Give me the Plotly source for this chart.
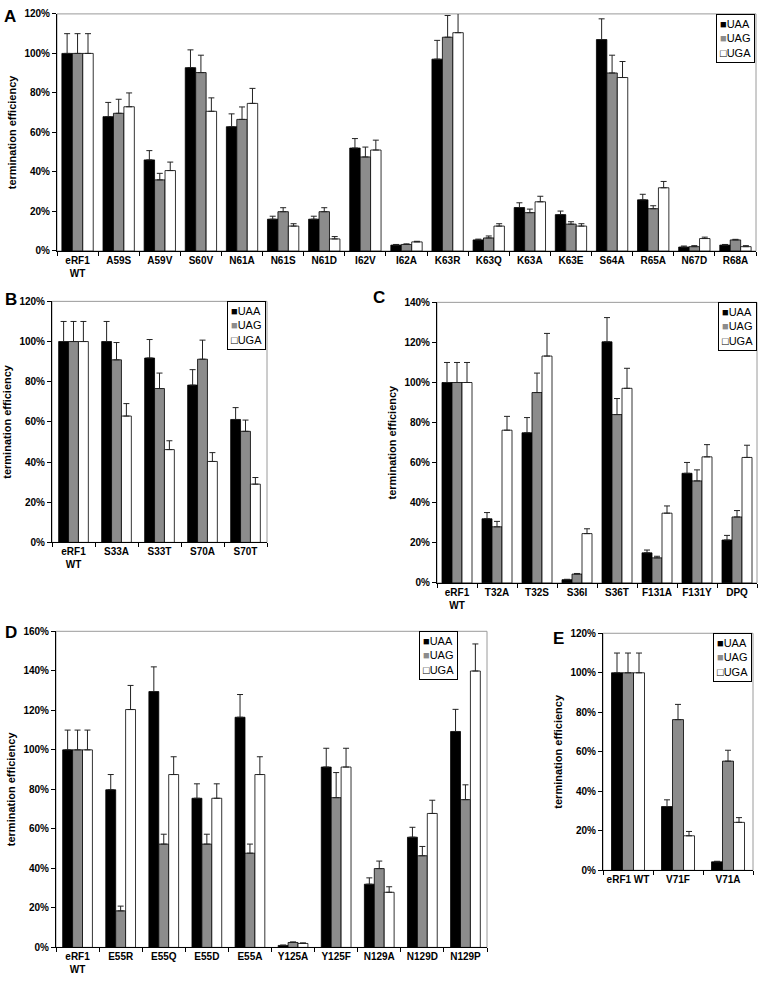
import plotly.graph_objects as go

W, H = 760, 987

# ---------------- data ----------------
A_cats = ["eRF1<br>WT", "A59S", "A59V", "S60V", "N61A", "N61S", "N61D", "I62V", "I62A",
          "K63R", "K63Q", "K63A", "K63E", "S64A", "R65A", "N67D", "R68A"]
A_uaa = [100, 68, 46.1, 92.8, 62.9, 16.1, 16.1, 52.1, 3, 97.1, 5.6, 22, 18.4, 107, 25.9, 2, 3]
A_uaa_err = [10, 7.2, 4.7, 9, 6.5, 1.5, 1.5, 4.8, 0.3, 9.5, 0.4, 2.4, 1.8, 10.5, 2.8, 0.5, 0.3]
A_uag = [100, 69.7, 36, 90.3, 66.6, 19.9, 19.9, 47.6, 3.3, 108.2, 6.6, 19.4, 13.6, 90.1, 21.4, 2.2, 5.6]
A_uag_err = [10, 7.1, 3.3, 8.8, 6.3, 2, 2, 5, 0.3, 11, 1, 1.8, 1.2, 9, 1.5, 0.5, 0.3]
A_uga = [100, 73, 40.7, 70.7, 74.7, 12.6, 6.1, 51.1, 4.6, 110.5, 12.6, 24.9, 12.6, 87.8, 32, 6.3, 2.2]
A_uga_err = [10, 7, 4.3, 6.8, 7.6, 1.2, 1.2, 5, 0.3, 11, 1.2, 2.8, 1.2, 8.1, 3.2, 0.7, 0.5]

B_cats = ["eRF1<br>WT", "S33A", "S33T", "S70A", "S70T"]
B_uaa = [100, 100, 91.8, 78.3, 61.2]
B_uaa_err = [10, 10, 9.2, 7.7, 5.9]
B_uag = [100, 90.9, 76.6, 91.2, 55.3]
B_uag_err = [10, 8.6, 7.7, 9.5, 5.6]
B_uga = [100, 62.9, 46.2, 40.3, 29]
B_uga_err = [10, 6.2, 4.4, 4.4, 3.3]

C_cats = ["eRF1<br>WT", "T32A", "T32S", "S36I", "S36T", "F131A", "F131Y", "DPQ"]
C_uaa = [100, 32, 74.9, 1.6, 120.3, 15, 54.7, 21.4]
C_uaa_err = [10, 3.1, 7.6, 0.2, 12.1, 1.4, 5.4, 2.3]
C_uag = [100, 28, 95, 4.4, 84, 12.5, 50.9, 32.9]
C_uag_err = [10, 2.7, 9.7, 0.3, 8, 0.8, 5.5, 3.2]
C_uga = [100, 76.2, 113.2, 24.6, 97.1, 34.8, 62.9, 62.6]
C_uga_err = [10, 6.9, 11.3, 2.4, 10, 3.6, 6.1, 6.1]

D_cats = ["eRF1<br>WT", "E55R", "E55Q", "E55D", "E55A", "Y125A", "Y125F", "N129A", "N129D", "N129P"]
D_uaa = [100, 79.8, 129.5, 75.5, 116.5, 1, 91.3, 32, 55.8, 109.3]
D_uaa_err = [10, 7.7, 12.5, 7.3, 11.5, 0.2, 9.5, 3.2, 5, 11.2]
D_uag = [100, 18.5, 52.3, 52.3, 47.7, 2.5, 75.8, 39.9, 46.4, 74.8]
D_uag_err = [10, 2.4, 5, 5, 4.6, 0.3, 12.7, 3.8, 4.7, 7.5]
D_uga = [100, 120.4, 87.5, 75.5, 87.5, 2, 91.3, 27.9, 67.8, 139.9]
D_uga_err = [10, 12.2, 9, 7.3, 9, 0.3, 9.5, 2.8, 6.7, 13.7]

E_cats = ["eRF1 WT", "V71F", "V71A"]
E_uaa = [100, 32.3, 4.3]
E_uaa_err = [10, 3.4, 0.3]
E_uag = [100, 76.3, 55.3]
E_uag_err = [10, 7.7, 5.5]
E_uga = [100, 17.5, 24.3]
E_uga_err = [10, 2.2, 2.4]

series_names = ["UAA", "UAG", "UGA"]
# --------------------------------------

FONT = "Liberation Sans, Arial, sans-serif"
fills = ["#000000", "#8c8c8c", "#ffffff"]


def px_x(p):
    return p / W


def px_y(p):
    return 1 - p / H


fig = go.Figure()

panels = [
    dict(letter="A", cats=A_cats, vals=[A_uaa, A_uag, A_uga], errs=[A_uaa_err, A_uag_err, A_uga_err],
         ymax=120, w=0.254, box=(57, 756, 8, 248), lpos=(2, 11), leg=(755, 8)),
    dict(letter="B", cats=B_cats, vals=[B_uaa, B_uag, B_uga], errs=[B_uaa_err, B_uag_err, B_uga_err],
         ymax=120, w=0.23, box=(52, 267, 299, 543), lpos=(3, 297), leg=(266, 299)),
    dict(letter="C", cats=C_cats, vals=[C_uaa, C_uag, C_uga], errs=[C_uaa_err, C_uag_err, C_uga_err],
         ymax=140, w=0.25, box=(437, 757, 300, 584), lpos=(371, 295), leg=(757, 300)),
    dict(letter="D", cats=D_cats, vals=[D_uaa, D_uag, D_uga], errs=[D_uaa_err, D_uag_err, D_uga_err],
         ymax=160, w=0.23, box=(56, 487, 633, 953), lpos=(3, 634), leg=(458, 633)),
    dict(letter="E", cats=E_cats, vals=[E_uaa, E_uag, E_uga], errs=[E_uaa_err, E_uag_err, E_uga_err],
         ymax=120, w=0.22, box=(603, 753, 635, 875), lpos=(551, 640), leg=(752, 635)),
]

for k, p in enumerate(panels):
    idx = "" if k == 0 else str(k + 1)
    xa, ya = "x" + idx, "y" + idx
    n = len(p["cats"])
    w = p["w"]
    for i in range(3):
        fig.add_trace(go.Bar(
            x=p["cats"], y=p["vals"][i], name=series_names[i],
            xaxis=xa, yaxis=ya, width=w, offset=-1.5 * w + i * w,
            marker=dict(color=fills[i], line=dict(color="#000000", width=0.8)),
            error_y=dict(type="data", symmetric=False, array=p["errs"][i],
                         arrayminus=[0] * n, color="#222222", thickness=1, width=3),
            showlegend=False,
        ))
    l, r, t, b = p["box"]
    fig.update_layout(**{
        "xaxis" + idx: dict(domain=[px_x(l), px_x(r)], anchor=ya, type="category",
                            showline=True, linecolor="#000000", linewidth=1,
                            ticks="outside", tickson="boundaries", ticklen=4, tickcolor="#000000",
                            showgrid=False, zeroline=False, tickangle=0,
                            tickfont=dict(family=FONT, size=10, color="#000000", weight="bold")),
        "yaxis" + idx: dict(domain=[px_y(b), px_y(t)], anchor=xa, range=[0, p["ymax"]],
                            dtick=20, ticksuffix="%", showline=True, linecolor="#000000", linewidth=1,
                            ticks="outside", ticklen=4, tickcolor="#000000",
                            showgrid=False, zeroline=False,
                            tickfont=dict(family=FONT, size=10, color="#000000", weight="bold"),
                            title=dict(text="termination efficiency", standoff=5,
                                       font=dict(family=FONT, size=11, color="#000000", weight="bold"))),
    })
    fig.add_shape(type="rect", xref=xa + " domain", yref=ya + " domain", x0=0, x1=1, y0=0, y1=1,
                  line=dict(color="#9a9a9a", width=1), layer="below")
    fig.add_annotation(text="<b>" + p["letter"] + "</b>", xref="paper", yref="paper",
                       x=px_x(p["lpos"][0]), y=px_y(p["lpos"][1]), xanchor="left", yanchor="middle",
                       showarrow=False, font=dict(family=FONT, size=17, color="#000000"))
    leg_text = ("<span style='color:#000000'>■</span>UAA<br>"
                "<span style='color:#8c8c8c'>■</span>UAG<br>"
                "<span style='color:#000000'>□</span>UGA")
    fig.add_annotation(text=leg_text, xref="paper", yref="paper",
                       x=px_x(p["leg"][0]), y=px_y(p["leg"][1]), xanchor="right", yanchor="top",
                       align="left", showarrow=False, bgcolor="#ffffff",
                       bordercolor="#000000", borderwidth=1, borderpad=3,
                       font=dict(family=FONT, size=11, color="#000000"))

fig.update_layout(
    width=W, height=H, margin=dict(l=0, r=0, t=0, b=0),
    paper_bgcolor="#ffffff", plot_bgcolor="#ffffff",
    barmode="overlay", showlegend=False,
    font=dict(family=FONT, color="#000000"),
)

fig.write_html("out.html", config={"displayModeBar": False},
               post_script="document.body.style.margin='0';document.body.style.overflow='hidden';")
